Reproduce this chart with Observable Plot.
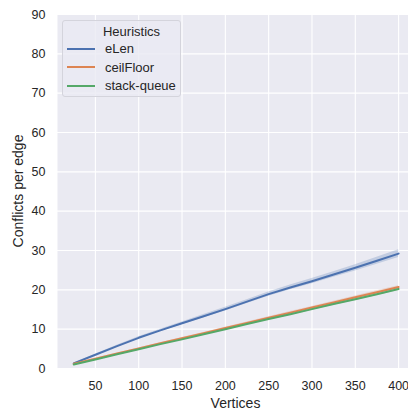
<!DOCTYPE html>
<html>
<head>
<meta charset="utf-8">
<script src="https://cdn.jsdelivr.net/npm/d3@7"></script>
<script src="https://cdn.jsdelivr.net/npm/@observablehq/plot@0.6"></script>
<style>
  html, body { margin: 0; padding: 0; background: #fff; }
  #wrap { position: relative; width: 408px; height: 413px; font-family: "Liberation Sans", Arial, sans-serif; color: #262626; }
  #legend { position: absolute; left: 62px; top: 20px; width: 119px; height: 77px; box-sizing: border-box;
    background: rgba(234,234,242,0.8); border: 1px solid #d4d4dc; border-radius: 3px; font-size: 13px; }
  #legend .title { position: absolute; left: 0; right: 0; top: 3px; text-align: center; padding-left: 20px; }
  #legend .row { position: absolute; left: 4px; height: 16px; line-height: 16px; }
  #legend .sw { display: inline-block; width: 28px; height: 0; border-top: 2px solid; vertical-align: middle; margin-right: 10px; position: relative; top: -1px; }
</style>
</head>
<body>
<div id="wrap"><div id="chart"></div><div id="legend"></div></div>
<script>
const vertices = [25, 50, 75, 100, 125, 150, 175, 200, 225, 250, 275, 300, 325, 350, 375, 400];
const series = ["eLen", "ceilFloor", "stack-queue"];
const colors = ["#4C72B0", "#DD8452", "#55A868"];
const eLen      = [1.3, 3.5, 5.7, 7.8, 9.7, 11.5, 13.3, 15.1, 17.0, 18.9, 20.6, 22.2, 23.9, 25.6, 27.4, 29.2];
const ceilFloor = [1.2, 2.5, 3.8, 5.1, 6.4, 7.7, 9.0, 10.3, 11.6, 12.9, 14.2, 15.5, 16.8, 18.1, 19.4, 20.7];
const stackQueue= [1.0, 2.3, 3.6, 4.9, 6.2, 7.4, 8.7, 10.0, 11.3, 12.6, 13.8, 15.1, 16.4, 17.6, 18.9, 20.2];
const eLenCI      = [0.1, 0.15, 0.2, 0.25, 0.3, 0.35, 0.4, 0.45, 0.5, 0.55, 0.6, 0.65, 0.7, 0.8, 0.9, 1.0];
const ceilFloorCI = [0.05, 0.08, 0.1, 0.12, 0.14, 0.16, 0.18, 0.2, 0.22, 0.24, 0.26, 0.28, 0.3, 0.32, 0.34, 0.36];
const stackQueueCI= [0.05, 0.08, 0.1, 0.12, 0.14, 0.16, 0.18, 0.2, 0.22, 0.24, 0.26, 0.28, 0.3, 0.32, 0.34, 0.36];
const xTicks = [50, 100, 150, 200, 250, 300, 350, 400];
const yTicks = [0, 10, 20, 30, 40, 50, 60, 70, 80, 90];
const xLabel = "Vertices";
const yLabel = "Conflicts per edge";

const valuesBy = [eLen, ceilFloor, stackQueue];
const ciBy = [eLenCI, ceilFloorCI, stackQueueCI];
const data = [];
series.forEach((s, i) => vertices.forEach((v, j) => {
  data.push({series: s, x: v, y: valuesBy[i][j], lo: valuesBy[i][j] - ciBy[i][j], hi: valuesBy[i][j] + ciBy[i][j]});
}));

const chart = Plot.plot({
  width: 408,
  height: 413,
  marginLeft: 57,
  marginRight: 0,
  marginTop: 14,
  marginBottom: 45,
  style: {fontFamily: '"Liberation Sans", Arial, sans-serif', fontSize: "12.5px", color: "#262626", background: "transparent"},
  x: {domain: [6.25, 411.4]},
  y: {domain: [0, 90]},
  color: {domain: series, range: colors},
  marks: [
    Plot.frame({fill: "#EAEAF2", stroke: "none"}),
    Plot.gridX(xTicks, {stroke: "#fff", strokeOpacity: 1, strokeWidth: 1.1}),
    Plot.gridY(yTicks, {stroke: "#fff", strokeOpacity: 1, strokeWidth: 1.1}),
    Plot.areaY(data, {x: "x", y1: "lo", y2: "hi", z: "series", fill: "series", fillOpacity: 0.25}),
    Plot.lineY(data, {x: "x", y: "y", z: "series", stroke: "series", strokeWidth: 2}),
    Plot.axisX(xTicks, {tickSize: 0, tickPadding: 13, fontSize: 12.5, label: null, fill: "#262626"}),
    Plot.axisY(yTicks, {tickSize: 0, tickPadding: 12, fontSize: 12.5, label: null, fill: "#262626"})
  ]
});
document.getElementById("chart").appendChild(chart);

const svg = d3.select(chart);
svg.append("text").attr("x", 235.5).attr("y", 408.3).attr("text-anchor", "middle")
  .attr("font-size", 14).attr("fill", "#262626").text(xLabel);
svg.append("text").attr("transform", "translate(23,191) rotate(-90)").attr("text-anchor", "middle")
  .attr("font-size", 14).attr("fill", "#262626").text(yLabel);

const legend = document.getElementById("legend");
const t = document.createElement("div");
t.className = "title"; t.textContent = "Heuristics"; legend.appendChild(t);
series.forEach((s, i) => {
  const r = document.createElement("div");
  r.className = "row";
  r.style.top = (20 + i * 18.5) + "px";
  r.innerHTML = `<span class="sw" style="border-color:${colors[i]}"></span>${s}`;
  legend.appendChild(r);
});
</script>
</body>
</html>
